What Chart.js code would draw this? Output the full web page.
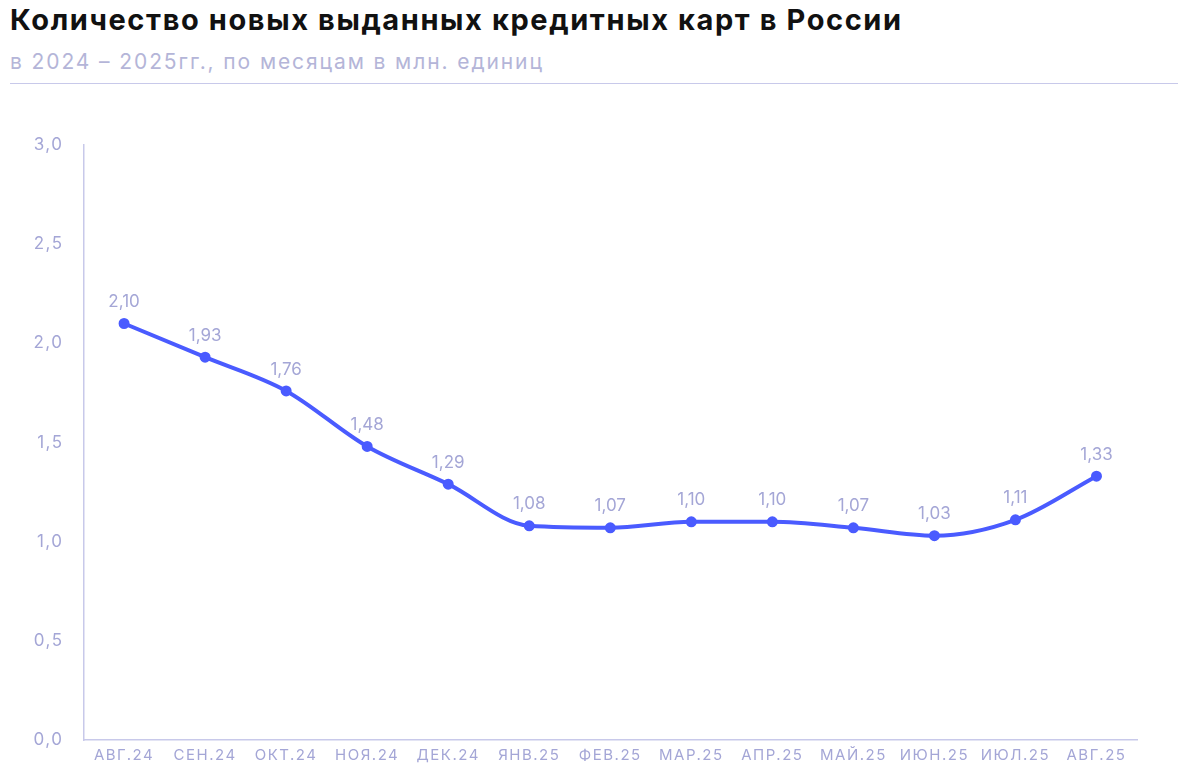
<!DOCTYPE html>
<html><head><meta charset="utf-8">
<script src="https://cdn.jsdelivr.net/npm/chart.js@4/dist/chart.umd.min.js"></script>
<style>
body{margin:0;background:#fff;width:1200px;height:780px;overflow:hidden;font-family:Inter,"Noto Sans",sans-serif;position:relative}
#t{position:absolute;left:10px;top:2px;font-size:29px;font-weight:700;color:#111;letter-spacing:1.6px}
#s{position:absolute;left:10px;top:49px;font-size:21px;color:#b4b5d8;letter-spacing:1.9px}
#hr{position:absolute;left:10px;top:83px;width:1168px;height:1px;background:#c8c9ea}
#c{position:absolute;left:0;top:0}
</style></head><body>
<div id="t">Количество новых выданных кредитных карт в России</div>
<div id="s">в 2024 – 2025гг., по месяцам в млн. единиц</div>
<div id="hr"></div>
<canvas id="c" width="1200" height="780"></canvas>
<script>
const categories=["АВГ.24","СЕН.24","ОКТ.24","НОЯ.24","ДЕК.24","ЯНВ.25","ФЕВ.25","МАР.25","АПР.25","МАЙ.25","ИЮН.25","ИЮЛ.25","АВГ.25"];
const values=[2.10,1.93,1.76,1.48,1.29,1.08,1.07,1.10,1.10,1.07,1.03,1.11,1.33];
const axisColor="#c8c9ea", textColor="#a4a6d6";
const spacing={id:"sp",beforeDraw(ch){ch.ctx.letterSpacing="1.5px";}};
const labelsPlugin={id:"lbl",afterDatasetsDraw(ch){const ctx=ch.ctx;const m=ch.getDatasetMeta(0);ctx.save();ctx.letterSpacing="0px";ctx.font="17px Inter, sans-serif";ctx.fillStyle=textColor;ctx.textAlign="center";ctx.textBaseline="bottom";
m.data.forEach((p,i)=>ctx.fillText(values[i].toFixed(2).replace(".",","),p.x,p.y-13));ctx.restore();}};
new Chart(document.getElementById("c"),{type:"line",
data:{labels:categories,datasets:[{data:values,borderColor:"#4a5bff",backgroundColor:"#4a5bff",borderWidth:4,pointRadius:3.5,pointHoverRadius:3.5,tension:0.4,cubicInterpolationMode:"monotone"}]},
options:{responsive:false,animation:false,events:[],layout:{padding:{top:145,left:18,right:63,bottom:10}},
plugins:{legend:{display:false},tooltip:{enabled:false}},
scales:{x:{offset:true,grid:{display:false,drawTicks:false},border:{color:axisColor,width:1.5},ticks:{color:textColor,font:{size:15,family:"Inter"},padding:6,maxRotation:0,autoSkip:false}},
y:{min:0,max:3,grid:{display:false,drawTicks:false},border:{color:axisColor,width:1.5},ticks:{stepSize:0.5,color:textColor,font:{size:17,family:"Inter"},padding:20,callback:v=>v.toFixed(1).replace(".",",")}}}},
plugins:[spacing,labelsPlugin]});
</script></body></html>
